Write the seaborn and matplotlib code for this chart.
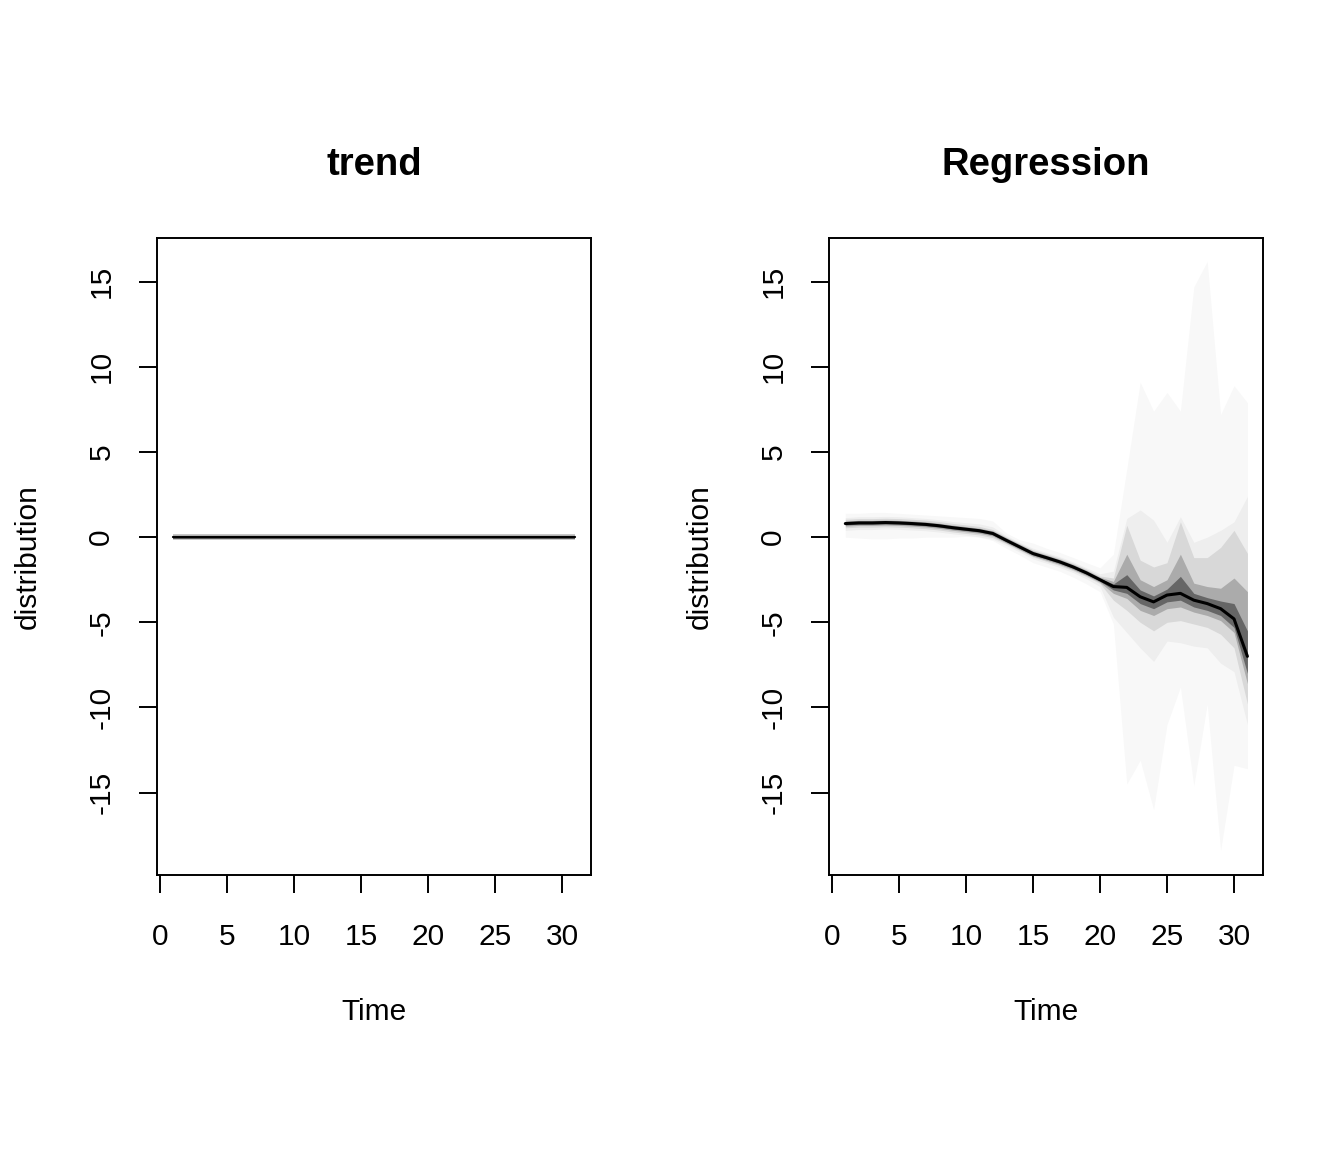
import matplotlib
matplotlib.use("Agg")
import matplotlib.pyplot as plt
import seaborn as sns
import pandas as pd

# ---------------------------------------------------------------------------
# Data (time steps 1..31)
# ---------------------------------------------------------------------------

time = list(range(1, 32))

# trend component: flat at zero with a very narrow spread
trend_median = [0.0] * 31
trend_outer = (
    [-0.18] * 31,
    [0.18] * 31,
)
trend_inner = (
    [-0.09] * 31,
    [0.09] * 31,
)

# regression component
reg_median = [0.80, 0.84, 0.84, 0.86, 0.84, 0.80, 0.75, 0.67, 0.56, 0.47,
              0.38, 0.22, -0.18, -0.57, -0.96, -1.20, -1.45, -1.75, -2.10, -2.50,
              -2.90, -2.95, -3.50, -3.80, -3.40, -3.30, -3.70, -3.90, -4.20, -4.80,
              -7.00]

# quantile bands, outermost first: (lower, upper)
reg_q01 = (
    [0.00, -0.05, -0.10, -0.10, -0.05, -0.05, 0.00, 0.00, 0.00, 0.05,
     0.00, -0.20, -0.65, -1.05, -1.50, -1.75, -2.00, -2.35, -2.75, -3.20,
     -5.1, -14.5, -13.1, -16.0, -11.0, -8.8, -14.6, -9.8, -18.4, -13.4,
     -13.6],
    [1.40, 1.40, 1.45, 1.45, 1.40, 1.35, 1.30, 1.25, 1.20, 1.15,
     1.10, 0.95, 0.25, -0.15, -0.35, -0.65, -0.90, -1.20, -1.50, -1.80,
     -1.0, 4.0, 9.1, 7.4, 8.5, 7.4, 14.7, 16.2, 7.2, 8.9,
     7.9],
)
reg_q05 = (
    [0.40, 0.45, 0.45, 0.48, 0.46, 0.42, 0.38, 0.30, 0.20, 0.12,
     0.02, -0.12, -0.48, -0.87, -1.28, -1.52, -1.78, -2.08, -2.45, -2.90,
     -4.7, -5.6, -6.5, -7.3, -6.1, -6.2, -6.4, -6.5, -7.4, -7.9,
     -11.0],
    [1.15, 1.20, 1.20, 1.22, 1.20, 1.15, 1.10, 1.02, 0.92, 0.85,
     0.78, 0.60, 0.10, -0.30, -0.65, -0.90, -1.15, -1.45, -1.80, -2.15,
     -2.0, 1.1, 1.6, 1.0, -0.3, 1.2, -0.3, 0.0, 0.4, 0.9,
     2.4],
)
reg_q15 = (
    [0.55, 0.59, 0.59, 0.61, 0.59, 0.55, 0.50, 0.42, 0.31, 0.22,
     0.13, -0.03, -0.38, -0.77, -1.16, -1.42, -1.67, -1.97, -2.32, -2.72,
     -3.7, -4.3, -5.0, -5.5, -5.0, -4.9, -5.1, -5.3, -5.7, -6.5,
     -9.8],
    [1.05, 1.09, 1.09, 1.11, 1.09, 1.05, 1.00, 0.92, 0.81, 0.72,
     0.63, 0.45, 0.02, -0.37, -0.74, -0.98, -1.23, -1.53, -1.88, -2.28,
     -2.4, 0.7, -1.35, -1.75, -1.5, 0.9, -1.2, -1.2, -0.6, 0.4,
     -0.95],
)
reg_q30 = (
    [0.65, 0.69, 0.69, 0.71, 0.69, 0.65, 0.60, 0.52, 0.41, 0.32,
     0.23, 0.07, -0.33, -0.72, -1.11, -1.35, -1.60, -1.90, -2.25, -2.65,
     -3.3, -3.6, -4.3, -4.6, -4.2, -4.1, -4.4, -4.6, -4.9, -5.6,
     -8.6],
    [0.95, 0.99, 0.99, 1.01, 0.99, 0.95, 0.90, 0.82, 0.71, 0.62,
     0.53, 0.37, -0.03, -0.42, -0.81, -1.05, -1.30, -1.60, -1.95, -2.35,
     -2.6, -1.0, -2.5, -2.9, -2.5, -1.0, -2.7, -2.9, -3.0, -2.4,
     -3.2],
)
reg_q40 = (
    [0.72, 0.76, 0.76, 0.78, 0.76, 0.72, 0.67, 0.59, 0.48, 0.39,
     0.30, 0.14, -0.26, -0.65, -1.04, -1.28, -1.53, -1.83, -2.18, -2.58,
     -3.1, -3.3, -3.9, -4.2, -3.8, -3.7, -4.1, -4.3, -4.6, -5.3,
     -8.0],
    [0.88, 0.92, 0.92, 0.94, 0.92, 0.88, 0.83, 0.75, 0.64, 0.55,
     0.46, 0.30, -0.10, -0.49, -0.88, -1.12, -1.37, -1.67, -2.02, -2.42,
     -2.75, -2.2, -3.1, -3.45, -3.05, -2.3, -3.3, -3.55, -3.75, -3.9,
     -5.5],
)

reg_bands = [reg_q01, reg_q05, reg_q15, reg_q30, reg_q40]
reg_band_colors = ["#f8f8f8", "#eeeeee", "#d8d8d8", "#ababab", "#666666"]

trend_bands = [trend_outer, trend_inner]
trend_band_colors = ["#c8c8c8", "#606060"]

x_ticks = [0, 5, 10, 15, 20, 25, 30]
y_ticks = [-15, -10, -5, 0, 5, 10, 15]

# ---------------------------------------------------------------------------
# Style (R base graphics look)
# ---------------------------------------------------------------------------

sns.set_theme(style="ticks")
plt.rcParams["font.family"] = ["Liberation Sans", "DejaVu Sans"]
plt.rcParams["axes.unicode_minus"] = False
plt.rcParams["axes.edgecolor"] = "black"
plt.rcParams["axes.linewidth"] = 1.4
plt.rcParams["text.color"] = "black"
plt.rcParams["axes.labelcolor"] = "black"
plt.rcParams["axes.titlecolor"] = "black"

fig = plt.figure(figsize=(13.44, 11.52), dpi=100)
ax_left = fig.add_axes([0.1168, 0.2405, 0.3229, 0.5530])
ax_right = fig.add_axes([0.6168, 0.2405, 0.3229, 0.5530])


def draw_panel(ax, median, bands, colors, title, median_lw):
    for (lo, hi), c in zip(bands, colors):
        ax.fill_between(time, lo, hi, color=c, linewidth=0)
    df = pd.DataFrame({"Time": time, "distribution": median})
    sns.lineplot(data=df, x="Time", y="distribution", ax=ax,
                 color="black", linewidth=median_lw)

    ax.set_xlim(-0.22, 32.16)
    ax.set_ylim(-19.84, 17.58)
    ax.set_xticks(x_ticks)
    ax.set_yticks(y_ticks)
    ax.set_xticklabels([str(v) for v in x_ticks])
    ax.set_yticklabels([str(v) for v in y_ticks])
    ax.tick_params(axis="both", direction="out", length=13, width=1.4,
                   color="black", labelsize=21.5, labelcolor="black")
    ax.tick_params(axis="x", pad=21.5)
    ax.tick_params(axis="y", pad=17)
    for lab in ax.get_yticklabels():
        lab.set_rotation(90)
        lab.set_va("center")

    for sp in ax.spines.values():
        sp.set_visible(True)
        sp.set_color("black")
        sp.set_linewidth(1.4)

    ax.set_title(title, fontsize=27.5, fontweight="bold", pad=45)
    ax.set_xlabel("Time", fontsize=21.5, labelpad=34)
    ax.set_ylabel("distribution", fontsize=21.5, labelpad=32.5)
    ax.grid(False)


draw_panel(ax_left, trend_median, trend_bands, trend_band_colors, "trend", 1.6)
draw_panel(ax_right, reg_median, reg_bands, reg_band_colors, "Regression", 2.2)

fig.savefig("out.png", dpi=100, facecolor="white")
